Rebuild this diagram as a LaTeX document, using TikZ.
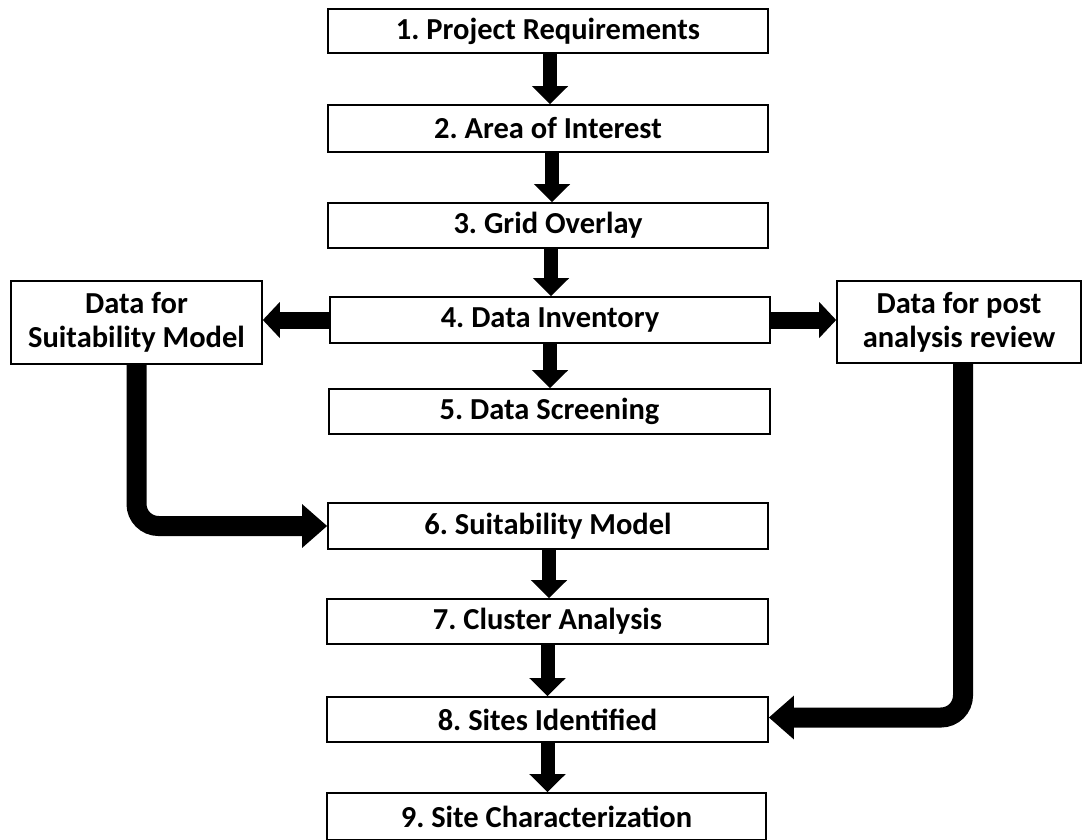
\documentclass[tikz,border=0pt]{standalone}
\usepackage{fontspec}
\setmainfont{Carlito}
\usetikzlibrary{arrows.meta}
\begin{document}
\frenchspacing
\begin{tikzpicture}[x=1pt,y=-1pt,
  box/.style={draw=black, line width=1.6pt, fill=white, inner sep=0pt, align=center,
    font=\fontsize{30.5}{34}\selectfont\bfseries, text=black},
  flow/.style={line width=14pt, -{Triangle[width=35pt,length=18pt]}},
  side/.style={line width=17pt, -{Triangle[width=35pt,length=17pt]}},
  bent/.style={line width=20pt, rounded corners=22pt, -{Triangle[width=42pt,length=25pt]}}]
\useasboundingbox (0,0) rectangle (1082,839);
\node[box, minimum width=440pt, minimum height=44pt] (b1) at (548,31) {1. Project Requirements};
\node[box, minimum width=440pt, minimum height=47pt] (b2) at (548,128.5) {2. Area of Interest};
\node[box, minimum width=440pt, minimum height=45pt] (b3) at (548,225.5) {3. Grid Overlay};
\node[box, minimum width=440pt, minimum height=46pt] (b4) at (550,320) {4. Data Inventory};
\node[box, minimum width=441pt, minimum height=45pt] (b5) at (549.5,411.5) {5. Data Screening};
\node[box, minimum width=440pt, minimum height=46pt] (b6) at (548,526) {6. Suitability Model};
\node[box, minimum width=441pt, minimum height=45pt] (b7) at (547.5,621.5) {7. Cluster Analysis};
\node[box, minimum width=441pt, minimum height=45pt] (b8) at (547.5,719.5) {8. Sites Identified};
\node[box, minimum width=439pt, minimum height=47pt] (b9) at (546.5,816.5) {9. Site Characterization};
\node[box, minimum width=251pt, minimum height=83pt] (L) at (136.5,322.5) {Data for\\Suitability Model};
\node[box, minimum width=244pt, minimum height=82pt] (R) at (959,322) {Data for post\\analysis review};
\draw[flow] ([xshift=2pt]b1.south) -- ([xshift=2pt]b1.south |- b2.north);
\draw[flow] ([xshift=4pt]b2.south) -- ([xshift=4pt]b2.south |- b3.north);
\draw[flow] ([xshift=3pt]b3.south) -- ([xshift=3pt]b3.south |- b4.north);
\draw[flow] (b4.south) -- (b4.south |- b5.north);
\draw[flow] ([xshift=1pt]b6.south) -- ([xshift=1pt]b6.south |- b7.north);
\draw[flow] (b7.south) -- (b7.south |- b8.north);
\draw[flow] (b8.south) -- (b8.south |- b9.north);
\draw[side] (b4.west) -- (b4.west -| L.east);
\draw[side] (b4.east) -- (b4.east -| R.west);
\draw[bent] (L.south) |- (b6.west);
\draw[bent] ([xshift=4pt]R.south) |- ([yshift=2pt]b8.east);
\end{tikzpicture}
\end{document}
